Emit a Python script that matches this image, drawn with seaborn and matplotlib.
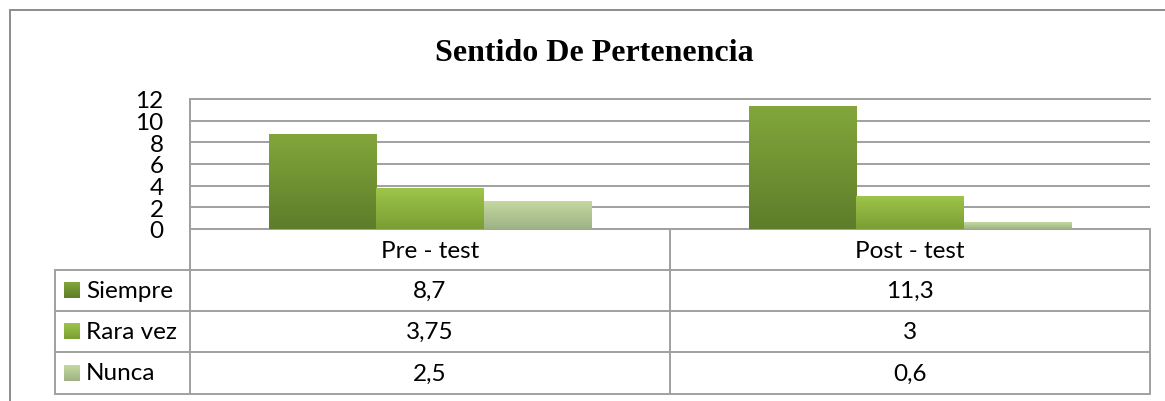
import numpy as np
import pandas as pd
import matplotlib
matplotlib.use('Agg')
import matplotlib.pyplot as plt
import seaborn as sns
from matplotlib.colors import to_rgb


# data
pruebas = ['Pre - test', 'Post - test']
frecuencias = ['Siempre', 'Rara vez', 'Nunca']
siempre = [8.7, 11.3]
rara_vez = [3.75, 3]
nunca = [2.5, 0.6]
y_ticks = [0, 2, 4, 6, 8, 10, 12]

# gradient colours (top, bottom) per series
colores = {
    'Siempre': ('#82a63b', '#5e7d2a'),
    'Rara vez': ('#9dc44a', '#7b9e34'),
    'Nunca': ('#c4d8a0', '#9fb285'),
}

df = pd.DataFrame({
    'Prueba': pruebas * 3,
    'Frecuencia': [f for f in frecuencias for _ in pruebas],
    'Valor': siempre + rara_vez + nunca,
})

sns.set_theme(style='white')
plt.rcParams['font.family'] = ['Lato', 'DejaVu Sans']

W, H = 1165, 402
FS = 17.5
fig = plt.figure(figsize=(W / 100, H / 100), dpi=100)
fig.patch.set_facecolor('white')

# overlay in pixel coordinates for frame, title and data table
ov = fig.add_axes([0, 0, 1, 1])
ov.set_xlim(0, W)
ov.set_ylim(H, 0)
ov.axis('off')
ov.set_zorder(0)

ax = fig.add_axes([190 / W, 1 - 230 / H, 960 / W, 130 / H])
ax.set_zorder(1)
ax.patch.set_alpha(0)

sns.barplot(data=df, x='Prueba', y='Valor', hue='Frecuencia', order=pruebas,
            hue_order=frecuencias, palette=[colores[f][0] for f in frecuencias],
            width=0.67, saturation=1, ax=ax, legend=False, edgecolor='none')


def gradiente(axis, x0, x1, y0, y1, top, bottom):
    n = 64
    t = np.linspace(0, 1, n)[:, None]
    c = (1 - t) * np.array(to_rgb(bottom)) + t * np.array(to_rgb(top))
    return axis.imshow(c[:, None, :], extent=[x0, x1, y0, y1], origin='lower',
                       aspect='auto', interpolation='bilinear', zorder=3)


for cont, f in zip(ax.containers, frecuencias):
    top, bottom = colores[f]
    for bar in cont:
        x0 = bar.get_x()
        x1 = x0 + bar.get_width()
        h = bar.get_height()
        gradiente(ax, x0, x1, 0, h, top, bottom)

ax.set_xlim(-0.5, 1.5)
ax.set_ylim(0, 12)
ax.set_yticks(y_ticks)
ax.set_yticklabels([str(t) for t in y_ticks], fontsize=FS, color='black')
ax.set_xticks([])
ax.set_xlabel('')
ax.set_ylabel('')
ax.tick_params(axis='y', length=0, pad=19)
ax.yaxis.grid(True, color='#a0a0a0', linewidth=1.4)
ax.set_axisbelow(True)
for s in ['right', 'bottom']:
    ax.spines[s].set_visible(False)
for s in ['left', 'top']:
    ax.spines[s].set_color('#a0a0a0')
    ax.spines[s].set_linewidth(1.4)

# outer chart frame
lc = '#8c8c8c'
ov.plot([10, 10], [11, H + 2], color=lc, lw=1.4)
ov.plot([10, W + 2], [11, 11], color=lc, lw=1.4)

# title
ov.text(594, 61, 'Sentido De Pertenencia', ha='center', va='baseline',
        fontsize=23, fontweight='bold', family='Liberation Serif', color='black')

# data table
gc = '#a0a0a0'
rows_y = [230, 271, 312, 353, 395]
col_x = [55, 190, 670, 1150]
ov.plot([190, 1150], [230, 230], color=gc, lw=1.4)
for y in rows_y[1:]:
    ov.plot([55, 1150], [y, y], color=gc, lw=1.4)
ov.plot([190, 190], [100, 395], color=gc, lw=1.4)
ov.plot([670, 670], [230, 395], color=gc, lw=1.4)
ov.plot([1150, 1150], [230, 395], color=gc, lw=1.4)
ov.plot([55, 55], [271, 395], color=gc, lw=1.4)

for j, p in enumerate(pruebas):
    cx = (col_x[j + 1] + col_x[j + 2]) / 2
    ov.text(cx, 251, p, ha='center', va='center', fontsize=FS, color='black')

serie_vals = [siempre, rara_vez, nunca]
for i, f in enumerate(frecuencias):
    cy = (rows_y[i + 1] + rows_y[i + 2]) / 2
    top, bottom = colores[f]
    gradiente(ov, 64, 80, cy + 8, cy - 8, top, bottom)
    ov.text(86, cy, f, ha='left', va='center', fontsize=FS, color='black')
    for j, v in enumerate(serie_vals[i]):
        cx = (col_x[j + 1] + col_x[j + 2]) / 2
        ov.text(cx, cy, f'{v:g}'.replace('.', ','), ha='center', va='center',
                fontsize=FS, color='black')

ov.set_xlim(0, W)
ov.set_ylim(H, 0)

fig.savefig('out.png', dpi=100)
